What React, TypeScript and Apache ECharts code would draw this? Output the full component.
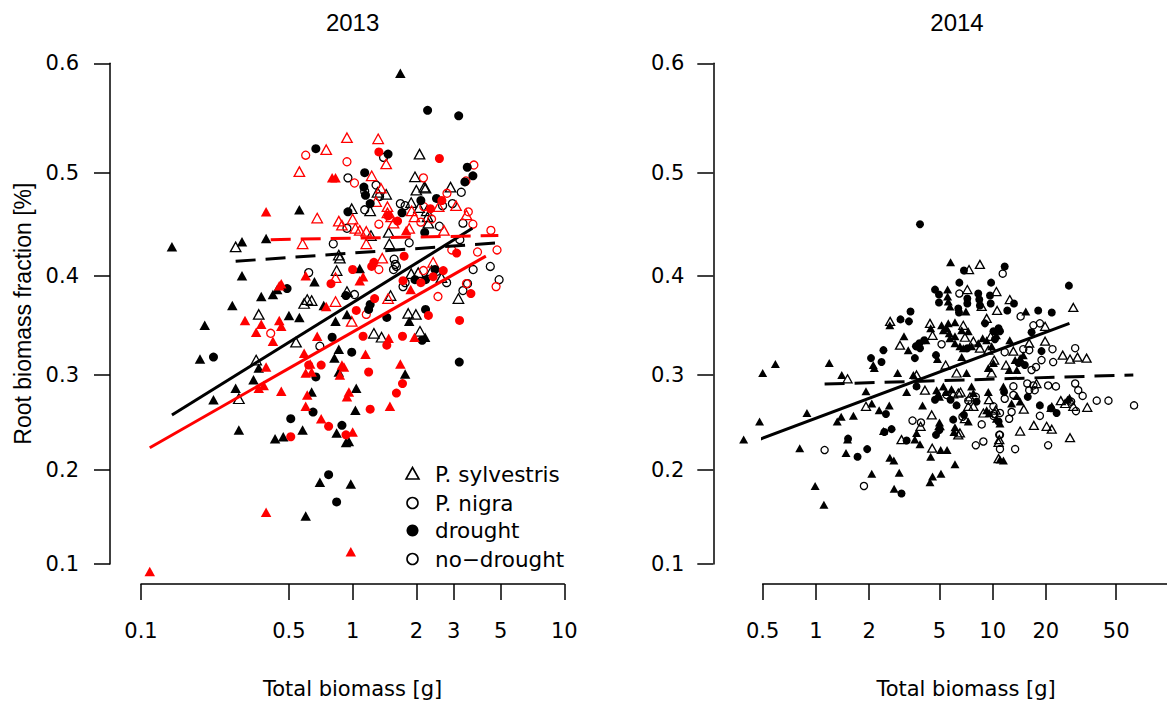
import React, { useEffect, useRef } from "react";
import * as echarts from "echarts";

// ---------- axis definitions ----------
const Y_TICKS = [0.1, 0.2, 0.3, 0.4, 0.5, 0.6];
// relative position of each y tick along the (warped) fraction axis
const Y_KNOTS = [0, 0.1877, 0.3775, 0.5758, 0.7815, 1];
const X13_TICKS = [0.1, 0.5, 1, 2, 3, 5, 10];
const X14_TICKS = [0.5, 1, 2, 5, 10, 20, 50, 100];
const X14_LABELS = [0.5, 1, 2, 5, 10, 20, 50];

// ---------- 2013: [total biomass g, root fraction] ----------
// black, P. sylvestris, drought
const Y13_BLACK_SYL_DRY: [number, number][] = [
  [1.68, 0.591], [0.56, 0.464], [0.3, 0.433], [0.39, 0.436], [0.14, 0.428], [1.08, 0.407], [0.3, 0.4],
  [0.66, 0.394], [0.42, 0.381], [0.44, 0.386], [0.37, 0.379], [0.27, 0.37], [0.2, 0.35], [0.73, 0.37],
  [0.5, 0.36], [0.56, 0.358], [0.94, 0.361], [0.83, 0.354], [1.85, 0.354], [2.2, 0.338], [0.19, 0.316],
  [0.36, 0.307], [0.34, 0.295], [0.28, 0.286], [0.22, 0.274], [0.29, 0.242], [0.86, 0.326], [0.82, 0.317],
  [0.86, 0.303], [1.04, 0.286], [1.03, 0.263], [0.84, 0.239], [0.93, 0.229], [0.96, 0.23], [0.64, 0.282],
  [0.58, 0.242], [0.47, 0.235], [0.43, 0.233], [1.77, 0.301], [0.7, 0.187], [0.98, 0.185], [0.6, 0.151],
];
// black, P. sylvestris, no-drought
const Y13_BLACK_SYL_WET: [number, number][] = [
  [2.07, 0.517], [1.97, 0.496], [2.18, 0.486], [2.21, 0.485], [2.0, 0.483], [2.9, 0.486], [1.44, 0.479],
  [1.31, 0.481], [1.89, 0.471], [2.06, 0.466], [2.24, 0.463], [2.26, 0.457], [2.28, 0.451], [0.99, 0.465],
  [1.21, 0.463], [0.28, 0.428], [1.48, 0.442], [1.49, 0.431], [1.22, 0.439], [0.86, 0.42], [0.87, 0.417],
  [0.84, 0.405], [1.89, 0.402], [2.04, 0.403], [2.36, 0.405], [2.63, 0.398], [0.94, 0.384], [1.51, 0.38],
  [3.16, 0.377], [0.61, 0.376], [0.64, 0.375], [0.59, 0.372], [0.36, 0.361], [1.83, 0.362], [1.99, 0.361],
  [2.08, 0.344], [1.26, 0.342], [1.37, 0.338], [0.35, 0.315], [0.29, 0.275], [0.54, 0.333],
];
// black, P. nigra, drought
const Y13_BLACK_NIG_DRY: [number, number][] = [
  [2.26, 0.557], [3.17, 0.552], [0.67, 0.522], [1.47, 0.517], [3.48, 0.505], [1.14, 0.5], [1.13, 0.486],
  [1.15, 0.478], [1.21, 0.47], [3.39, 0.491], [3.7, 0.497], [2.49, 0.475], [2.1, 0.473], [1.71, 0.461],
  [0.95, 0.462], [2.19, 0.442], [2.45, 0.406], [1.97, 0.396], [2.21, 0.396], [0.49, 0.387], [0.93, 0.38],
  [1.21, 0.371], [1.19, 0.366], [1.45, 0.358], [2.21, 0.366], [0.8, 0.338], [0.22, 0.318], [0.99, 0.323],
  [0.67, 0.298], [0.65, 0.261], [0.51, 0.254], [0.89, 0.247], [2.13, 0.335], [3.19, 0.313], [0.77, 0.195],
  [0.84, 0.166],
];
// black, P. nigra, no-drought
const Y13_BLACK_NIG_WET: [number, number][] = [
  [1.4, 0.514], [0.95, 0.495], [1.29, 0.488], [1.14, 0.482], [1.34, 0.477], [1.14, 0.464], [3.26, 0.481],
  [1.68, 0.47], [1.77, 0.468], [2.66, 0.468], [2.96, 0.47], [3.32, 0.451], [2.57, 0.448], [0.94, 0.446],
  [0.81, 0.431], [1.85, 0.432], [3.21, 0.435], [3.71, 0.406], [4.47, 0.409], [4.92, 0.396], [1.57, 0.416],
  [1.59, 0.411], [1.61, 0.409], [1.56, 0.406], [2.49, 0.404], [0.62, 0.403], [2.78, 0.393], [1.77, 0.393],
  [1.73, 0.389], [3.49, 0.392], [3.32, 0.385], [1.02, 0.381], [0.7, 0.329],
];
// red, P. sylvestris, drought
const Y13_RED_SYL_DRY: [number, number][] = [
  [0.8, 0.495], [0.83, 0.495], [0.39, 0.462], [1.79, 0.444], [0.6, 0.4], [1.12, 0.399], [1.08, 0.395],
  [0.46, 0.392], [0.45, 0.39], [1.88, 0.386], [0.75, 0.369], [0.31, 0.355], [0.37, 0.351], [0.45, 0.355],
  [0.46, 0.349], [0.35, 0.343], [0.68, 0.339], [1.48, 0.337], [1.96, 0.338], [0.42, 0.334], [0.39, 0.308],
  [0.38, 0.289], [0.36, 0.286], [0.46, 0.283], [0.59, 0.322], [0.63, 0.311], [0.6, 0.302], [0.64, 0.303],
  [0.61, 0.279], [0.6, 0.267], [0.71, 0.254], [0.89, 0.31], [0.91, 0.308], [0.87, 0.3], [0.96, 0.282],
  [0.94, 0.277], [1.0, 0.24], [1.15, 0.321], [1.68, 0.311], [1.5, 0.267], [0.39, 0.155], [0.98, 0.113],
  [0.11, 0.092],
];
// red, P. sylvestris, no-drought
const Y13_RED_SYL_WET: [number, number][] = [
  [0.94, 0.532], [1.32, 0.531], [0.75, 0.521], [0.56, 0.501], [1.44, 0.508], [1.23, 0.497], [1.36, 0.485],
  [1.29, 0.472], [2.55, 0.467], [3.08, 0.468], [3.45, 0.459], [1.46, 0.467], [1.46, 0.461], [1.52, 0.457],
  [1.96, 0.457], [1.9, 0.463], [0.86, 0.453], [1.0, 0.455], [0.68, 0.456], [0.89, 0.449], [1.56, 0.451],
  [1.85, 0.446], [2.7, 0.444], [1.03, 0.446], [1.08, 0.444], [1.16, 0.443], [0.58, 0.431], [1.16, 0.431],
  [1.38, 0.417], [2.4, 0.413], [0.83, 0.398], [1.47, 0.377], [0.83, 0.374], [0.99, 0.354],
];
// red, P. nigra, drought
const Y13_RED_NIG_DRY: [number, number][] = [
  [1.33, 0.519], [2.57, 0.513], [2.64, 0.473], [2.33, 0.465], [1.63, 0.453], [1.47, 0.458], [3.1, 0.422],
  [1.75, 0.419], [1.23, 0.409], [1.26, 0.413], [2.68, 0.405], [2.4, 0.399], [1.0, 0.406], [0.79, 0.392],
  [1.73, 0.395], [2.1, 0.393], [1.27, 0.377], [3.62, 0.382], [3.2, 0.355], [2.28, 0.36], [1.04, 0.365],
  [1.72, 0.339], [1.12, 0.339], [0.71, 0.31], [0.77, 0.246], [0.51, 0.235], [0.93, 0.237], [1.19, 0.303],
  [1.21, 0.264], [1.45, 0.33], [1.61, 0.281], [1.72, 0.291], [0.62, 0.31],
];
// red, P. nigra, no-drought
const Y13_RED_NIG_WET: [number, number][] = [
  [0.6, 0.516], [0.94, 0.51], [3.74, 0.507], [1.02, 0.49], [2.16, 0.495], [2.79, 0.48], [3.43, 0.492],
  [3.52, 0.462], [3.7, 0.45], [2.1, 0.452], [1.33, 0.45], [2.17, 0.467], [2.36, 0.455], [4.5, 0.444],
  [3.89, 0.423], [4.81, 0.425], [2.94, 0.425], [1.33, 0.406], [2.16, 0.405], [2.53, 0.379], [3.45, 0.392],
  [4.76, 0.389], [1.16, 0.361], [0.41, 0.342],
];
// 2013 fitted lines (end points)
const Y13_FIT_BLACK_SOLID: [number, number][] = [[0.14, 0.258], [3.68, 0.446]];
const Y13_FIT_RED_SOLID: [number, number][] = [[0.11, 0.2235], [4.26, 0.419]];
const Y13_FIT_BLACK_DASHED: [number, number][] = [[0.28, 0.414], [4.93, 0.432]];
const Y13_FIT_RED_DASHED: [number, number][] = [[0.41, 0.435], [4.88, 0.439]];

// ---------- 2014 ----------
const Y14_SYL_DRY: [number, number][] = [
  [0.39, 0.232], [0.48, 0.251], [0.5, 0.302], [0.59, 0.311], [0.89, 0.26], [0.81, 0.223], [0.99, 0.183],
  [1.11, 0.163], [1.19, 0.312], [1.32, 0.251], [1.39, 0.256], [1.63, 0.257], [5.78, 0.413], [5.56, 0.386],
  [5.56, 0.379], [5.61, 0.374], [5.73, 0.369], [7.06, 0.364], [2.62, 0.35], [4.46, 0.347], [5.14, 0.35],
  [5.61, 0.352], [6.12, 0.353], [5.26, 0.345], [5.5, 0.347], [6.68, 0.345], [7.28, 0.344], [5.68, 0.342],
  [6.12, 0.339], [5.73, 0.337], [8.78, 0.337], [9.25, 0.335], [3.15, 0.339], [3.33, 0.325], [4.19, 0.335],
  [6.12, 0.332], [6.53, 0.329], [6.82, 0.327], [7.6, 0.329], [8.29, 0.332], [9.87, 0.329], [2.11, 0.31],
  [2.14, 0.307], [4.87, 0.316], [6.68, 0.318], [2.9, 0.302], [3.56, 0.3], [7.12, 0.302], [10.1, 0.312],
  [9.45, 0.307], [1.4, 0.3], [1.92, 0.283], [2.07, 0.27], [2.28, 0.263], [2.6, 0.268], [3.26, 0.282],
  [4.01, 0.268], [4.82, 0.284], [4.92, 0.28], [5.0, 0.277], [5.26, 0.288], [5.44, 0.282], [5.85, 0.285],
  [7.6, 0.288], [7.78, 0.281], [7.28, 0.251], [9.45, 0.282], [9.25, 0.263], [9.57, 0.26], [5.0, 0.25],
  [5.06, 0.246], [4.95, 0.246], [3.71, 0.239], [3.88, 0.227], [3.63, 0.232], [2.41, 0.241], [1.51, 0.232],
  [6.12, 0.245], [6.04, 0.24], [5.08, 0.221], [5.52, 0.221], [4.46, 0.214], [6.12, 0.206], [1.48, 0.218],
  [2.62, 0.213], [2.76, 0.21], [2.07, 0.196], [2.96, 0.197], [4.57, 0.193], [4.42, 0.187], [5.1, 0.196],
  [2.77, 0.18], [15.4, 0.364], [10.5, 0.34], [12.5, 0.335], [13.4, 0.315], [14.3, 0.317], [14.9, 0.32],
  [12.4, 0.305], [13.7, 0.305], [11.5, 0.288], [13.7, 0.278], [12.8, 0.27], [14.3, 0.272], [27.2, 0.276],
  [26.5, 0.274], [10.5, 0.254], [11.0, 0.249], [11.0, 0.211], [11.5, 0.21],
];
const Y14_SYL_WET: [number, number][] = [
  [7.35, 0.406], [8.47, 0.411], [7.19, 0.386], [8.67, 0.369], [10.5, 0.384], [10.6, 0.365], [2.63, 0.354],
  [4.42, 0.352], [4.57, 0.34], [6.82, 0.35], [6.97, 0.338], [9.25, 0.357], [9.75, 0.339], [2.99, 0.33],
  [7.78, 0.334], [8.47, 0.327], [9.45, 0.325], [5.42, 0.31], [6.25, 0.302], [3.71, 0.3], [10.2, 0.315],
  [9.87, 0.302], [1.51, 0.296], [1.92, 0.267], [4.14, 0.284], [4.52, 0.258], [5.98, 0.28], [6.39, 0.281],
  [6.58, 0.282], [7.44, 0.277], [7.78, 0.267], [7.28, 0.267], [6.97, 0.254], [9.53, 0.274], [8.86, 0.26],
  [10.4, 0.263], [3.91, 0.246], [6.53, 0.239], [6.39, 0.237], [3.05, 0.232], [4.55, 0.223], [10.9, 0.232],
  [10.8, 0.212], [12.5, 0.376], [28.6, 0.368], [19.8, 0.349], [16.1, 0.332], [19.8, 0.334], [24.9, 0.32],
  [27.4, 0.316], [30.2, 0.318], [34.0, 0.317], [13.1, 0.324], [11.9, 0.31], [17.7, 0.291], [15.0, 0.264],
  [21.6, 0.266], [24.3, 0.273], [25.7, 0.27], [28.6, 0.267], [34.3, 0.266], [14.3, 0.241], [17.1, 0.247],
  [20.2, 0.246], [21.6, 0.243], [27.4, 0.234], [10.8, 0.229],
];
const Y14_NIG_DRY: [number, number][] = [
  [3.88, 0.45], [11.7, 0.409], [6.88, 0.405], [6.48, 0.393], [7.19, 0.377], [7.19, 0.372], [8.29, 0.382],
  [8.4, 0.376], [8.47, 0.37], [9.8, 0.393], [9.66, 0.38], [9.75, 0.372], [4.72, 0.386], [4.97, 0.381],
  [4.97, 0.373], [6.39, 0.367], [6.45, 0.363], [3.43, 0.364], [3.01, 0.356], [3.36, 0.354], [9.05, 0.352],
  [10.1, 0.344], [10.3, 0.336], [3.68, 0.329], [3.85, 0.332], [4.1, 0.335], [3.88, 0.327], [3.71, 0.329],
  [7.19, 0.327], [2.41, 0.325], [2.05, 0.317], [2.35, 0.313], [3.63, 0.317], [4.78, 0.32], [2.49, 0.259],
  [3.71, 0.288], [4.72, 0.274], [5.78, 0.274], [6.25, 0.268], [8.11, 0.272], [6.88, 0.258], [5.0, 0.242],
  [4.78, 0.237], [2.44, 0.24], [2.68, 0.243], [1.52, 0.233], [5.98, 0.253], [3.26, 0.231], [1.72, 0.214],
  [1.95, 0.222], [3.05, 0.175], [27.0, 0.39], [13.2, 0.372], [12.1, 0.365], [18.1, 0.365], [21.6, 0.363],
  [16.6, 0.343], [10.8, 0.347], [11.0, 0.344], [18.9, 0.324], [14.0, 0.312], [15.2, 0.31], [11.6, 0.282],
  [15.8, 0.277], [18.5, 0.268], [23.0, 0.26], [21.4, 0.265], [10.8, 0.251],
];
const Y14_NIG_WET: [number, number][] = [
  [1.12, 0.221], [11.4, 0.402], [6.48, 0.382], [5.14, 0.331], [5.49, 0.279], [7.28, 0.273], [8.03, 0.277],
  [6.75, 0.256], [8.67, 0.248], [10.1, 0.267], [10.2, 0.259], [3.52, 0.252], [3.93, 0.25], [8.03, 0.226],
  [8.86, 0.23], [1.87, 0.183], [10.9, 0.237], [14.4, 0.359], [17.0, 0.35], [18.5, 0.352], [14.9, 0.326],
  [16.1, 0.325], [21.8, 0.326], [29.3, 0.327], [18.9, 0.315], [22.0, 0.313], [11.7, 0.323], [16.6, 0.305],
  [17.6, 0.308], [13.1, 0.288], [15.7, 0.291], [17.0, 0.289], [16.1, 0.284], [17.3, 0.284], [20.6, 0.289],
  [22.8, 0.288], [29.3, 0.291], [30.5, 0.284], [32.3, 0.278], [11.7, 0.275], [13.1, 0.279], [18.5, 0.257],
  [27.8, 0.272], [29.6, 0.262], [38.8, 0.273], [45.2, 0.273], [63.1, 0.268], [10.1, 0.257], [11.0, 0.26],
  [12.4, 0.254], [12.8, 0.261], [11.0, 0.237], [11.0, 0.222], [13.4, 0.222], [20.6, 0.226],
];
const Y14_FIT_SOLID: [number, number][] = [[0.39, 0.226], [27.2, 0.352]];
const Y14_FIT_DASHED: [number, number][] = [[1.12, 0.2905], [62.5, 0.3]];

// ---------- helpers ----------
const SANS = "'Liberation Sans', Arial, Helvetica, sans-serif";
const WIDE = "'DejaVu Sans', 'Liberation Sans', Arial, sans-serif";
const RED = "#ff0000";
const BLACK = "#000000";

// piecewise-linear warp of the fraction axis through its tick knots
function warpY(p: number): number {
  let i = 0;
  while (i < Y_TICKS.length - 2 && p > Y_TICKS[i + 1]) i++;
  const t = (p - Y_TICKS[i]) / (Y_TICKS[i + 1] - Y_TICKS[i]);
  return Y_KNOTS[i] + t * (Y_KNOTS[i + 1] - Y_KNOTS[i]);
}
const toXY = (arr: [number, number][]) => arr.map(([x, p]) => [Math.log10(x), warpY(p)]);

function fmtTick(v: number, ticks: number[]): string {
  const t = ticks.find((k) => Math.abs(Math.log10(k) - v) < 1e-6);
  return t == null ? "" : String(t);
}

function scatter(
  idx: number,
  arr: [number, number][],
  shape: "triangle" | "circle",
  color: string,
  filled: boolean,
  small: boolean
) {
  const tri = small ? [9, 8] : [10.5, 9.5];
  const circ = small ? (filled ? 8 : 7.2) : filled ? 9 : 8;
  return {
    type: "scatter",
    xAxisIndex: idx,
    yAxisIndex: idx,
    data: toXY(arr),
    symbol: shape,
    symbolSize: shape === "triangle" ? tri : circ,
    clip: false,
    silent: true,
    itemStyle: filled
      ? { color, borderWidth: 0, opacity: 1 }
      : { color: "rgba(0,0,0,0)", borderColor: color, borderWidth: 1.3, opacity: 1 },
    z: filled ? 3 : 2,
  };
}

function fitLine(idx: number, arr: [number, number][], color: string, dashed: boolean) {
  return {
    type: "line",
    xAxisIndex: idx,
    yAxisIndex: idx,
    data: toXY(arr),
    symbol: "none",
    silent: true,
    clip: false,
    lineStyle: { color, width: 3, type: dashed ? [20, 10] : "solid", cap: "butt" },
    z: 5,
  };
}

const axisLineStyle = { color: "#000", width: 1.5 };
const tickText = { fontSize: 21, fontFamily: WIDE, color: "#000" };

function xAxis(idx: number, minV: number, maxV: number, ticks: number[], labels: number[]) {
  return {
    type: "value",
    gridIndex: idx,
    min: Math.log10(minV),
    max: Math.log10(maxV),
    position: "bottom",
    offset: 20,
    axisLine: { show: true, onZero: false, lineStyle: axisLineStyle },
    axisTick: { show: true, inside: false, length: 16, lineStyle: axisLineStyle, customValues: ticks.map(Math.log10) },
    axisLabel: {
      show: true,
      margin: 36,
      ...tickText,
      customValues: labels.map(Math.log10),
      formatter: (v: number) => fmtTick(v, labels),
    },
    splitLine: { show: false },
    name: "Total biomass [g]",
    nameLocation: "middle",
    nameGap: 94,
    nameTextStyle: tickText,
  };
}

function yAxis(idx: number, offset: number, margin: number, withName: boolean) {
  return {
    type: "value",
    gridIndex: idx,
    min: 0,
    max: 1,
    position: "left",
    offset,
    axisLine: { show: true, onZero: false, lineStyle: axisLineStyle },
    axisTick: { show: true, inside: false, length: 16, lineStyle: axisLineStyle, customValues: Y_KNOTS },
    axisLabel: {
      show: true,
      margin,
      ...tickText,
      customValues: Y_KNOTS,
      formatter: (v: number) => {
        const i = Y_KNOTS.findIndex((k) => Math.abs(k - v) < 1e-6);
        return i < 0 ? "" : Y_TICKS[i].toFixed(1);
      },
    },
    splitLine: { show: false },
    name: withName ? "Root biomass fraction [%]" : "",
    nameLocation: "middle",
    nameRotate: 90,
    nameGap: 76,
    nameTextStyle: { fontSize: 23, fontFamily: SANS, color: "#000" },
  };
}

function legendGraphic() {
  const sx = 412.5;
  const tx = 435;
  const rows = [474, 503, 530.5, 559];
  const text = (y: number, s: string) => ({
    type: "text",
    x: tx,
    y,
    silent: true,
    style: { text: s, fill: "#000", font: `21.5px ${WIDE}`, align: "left", verticalAlign: "middle" },
  });
  return [
    {
      type: "polygon",
      silent: true,
      shape: { points: [[sx - 6.5, rows[0] + 5], [sx + 6.5, rows[0] + 5], [sx, rows[0] - 6.5]] },
      style: { fill: "none", stroke: "#000", lineWidth: 1.6 },
    },
    text(rows[0], "P. sylvestris"),
    { type: "circle", silent: true, shape: { cx: sx, cy: rows[1], r: 5.5 }, style: { fill: "none", stroke: "#000", lineWidth: 1.6 } },
    text(rows[1], "P. nigra"),
    { type: "circle", silent: true, shape: { cx: sx, cy: rows[2], r: 6 }, style: { fill: "#000" } },
    text(rows[2], "drought"),
    { type: "circle", silent: true, shape: { cx: sx, cy: rows[3], r: 5.5 }, style: { fill: "none", stroke: "#000", lineWidth: 1.6 } },
    text(rows[3], "no\u2212drought"),
  ];
}

function buildOption() {
  return {
    animation: false,
    backgroundColor: "#ffffff",
    grid: [
      { left: 141, top: 63.3, width: 423.3, height: 500.7, containLabel: false, outerBoundsMode: "none" },
      { left: 762.7, top: 63.3, width: 406.7, height: 500.7, containLabel: false, outerBoundsMode: "none" },
    ],
    xAxis: [xAxis(0, 0.1, 10, X13_TICKS, X13_TICKS), xAxis(1, 0.5, 100, X14_TICKS, X14_LABELS)],
    yAxis: [yAxis(0, 31, 31, true), yAxis(1, 49.4, 29, false)],
    series: [
      scatter(0, Y13_BLACK_SYL_WET, "triangle", BLACK, false, false),
      scatter(0, Y13_BLACK_NIG_WET, "circle", BLACK, false, false),
      scatter(0, Y13_RED_SYL_WET, "triangle", RED, false, false),
      scatter(0, Y13_RED_NIG_WET, "circle", RED, false, false),
      scatter(0, Y13_BLACK_SYL_DRY, "triangle", BLACK, true, false),
      scatter(0, Y13_BLACK_NIG_DRY, "circle", BLACK, true, false),
      scatter(0, Y13_RED_SYL_DRY, "triangle", RED, true, false),
      scatter(0, Y13_RED_NIG_DRY, "circle", RED, true, false),
      fitLine(0, Y13_FIT_BLACK_SOLID, BLACK, false),
      fitLine(0, Y13_FIT_RED_SOLID, RED, false),
      fitLine(0, Y13_FIT_BLACK_DASHED, BLACK, true),
      fitLine(0, Y13_FIT_RED_DASHED, RED, true),
      scatter(1, Y14_SYL_WET, "triangle", BLACK, false, true),
      scatter(1, Y14_NIG_WET, "circle", BLACK, false, true),
      scatter(1, Y14_SYL_DRY, "triangle", BLACK, true, true),
      scatter(1, Y14_NIG_DRY, "circle", BLACK, true, true),
      fitLine(1, Y14_FIT_SOLID, BLACK, false),
      fitLine(1, Y14_FIT_DASHED, BLACK, true),
    ],
    graphic: [
      {
        type: "text",
        x: 352.6,
        y: 22,
        silent: true,
        style: { text: "2013", fill: "#000", font: `24px ${SANS}`, align: "center", verticalAlign: "middle" },
      },
      {
        type: "text",
        x: 957,
        y: 22,
        silent: true,
        style: { text: "2014", fill: "#000", font: `24px ${SANS}`, align: "center", verticalAlign: "middle" },
      },
      ...legendGraphic(),
    ],
  };
}

export default function App() {
  const ref = useRef<HTMLDivElement>(null);
  useEffect(() => {
    if (!ref.current) return;
    const chart = echarts.init(ref.current, undefined, { renderer: "svg" });
    chart.setOption(buildOption() as any);
    return () => chart.dispose();
  }, []);
  return (
    <div
      ref={ref}
      style={{ position: "fixed", left: 0, top: 0, width: 1167, height: 703, background: "#fff" }}
    />
  );
}
